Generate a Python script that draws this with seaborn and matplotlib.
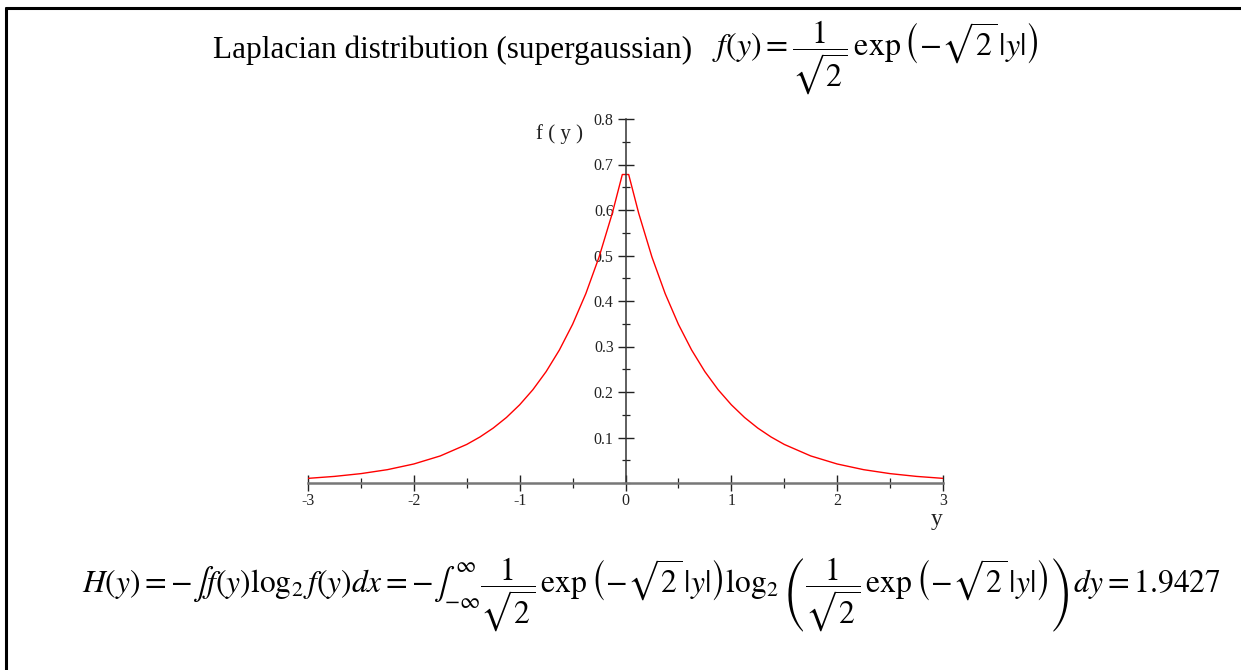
import numpy as np
import pandas as pd
import seaborn as sns
import matplotlib.pyplot as plt
from matplotlib.ticker import MultipleLocator, FixedLocator, FixedFormatter
from matplotlib.lines import Line2D

sns.set_theme(style="white")
plt.rcParams["font.family"] = ["Liberation Serif", "DejaVu Serif"]
plt.rcParams["mathtext.fontset"] = "stix"

# Sampled density values f(y) of the Laplacian curve
y_pos = [0.03, 0.125, 0.25, 0.375, 0.5, 0.625, 0.75, 0.875, 1.0, 1.125,
         1.25, 1.375, 1.5, 1.75, 2.0, 2.25, 2.5, 2.75, 3.0]
f_pos = [0.678, 0.5926, 0.4965, 0.4161, 0.3487, 0.2922, 0.2448, 0.2051,
         0.1719, 0.1440, 0.1207, 0.1012, 0.0848, 0.0595, 0.0418, 0.0293,
         0.0206, 0.0145, 0.0102]
y_vals = [-v for v in y_pos[::-1]] + y_pos
f_vals = f_pos[::-1] + f_pos

x_ticks = [-3, -2, -1, 0, 1, 2, 3]
x_labels = ["-3", "-2", "-1", "0", "1", "2", "3"]
y_ticks = [0.1, 0.2, 0.3, 0.4, 0.5, 0.6, 0.7, 0.8]
y_labels = ["0.1", "0.2", "0.3", "0.4", "0.5", "0.6", "0.7", "0.8"]

df = pd.DataFrame({"y": y_vals, "f": f_vals})

W, H = 1241, 670
fig = plt.figure(figsize=(W / 100, H / 100), dpi=100)
fig.patch.set_facecolor("white")

ax = fig.add_axes([308 / W, 1 - 483 / H, 635 / W, 364 / H])
ax.set_facecolor("none")
sns.lineplot(data=df, x="y", y="f", ax=ax, color="red", lw=1.0, sort=False,
             estimator=None)
ax.set_xlim(-3, 3)
ax.set_ylim(0, 0.8)
ax.set_xlabel("")
ax.set_ylabel("")

for s in ["top", "right"]:
    ax.spines[s].set_visible(False)
ax.spines["left"].set_position(("data", 0))
ax.spines["bottom"].set_position(("data", 0))
ax.spines["left"].set_color("#333333")
ax.spines["left"].set_linewidth(1.1)
ax.spines["bottom"].set_color("#777777")
ax.spines["bottom"].set_linewidth(1.8)

ax.xaxis.set_major_locator(FixedLocator(x_ticks))
ax.xaxis.set_major_formatter(FixedFormatter(x_labels))
ax.xaxis.set_minor_locator(MultipleLocator(0.5))
ax.yaxis.set_major_locator(FixedLocator(y_ticks))
ax.yaxis.set_major_formatter(FixedFormatter(y_labels))
ax.yaxis.set_minor_locator(MultipleLocator(0.05))

ax.tick_params(axis="x", which="both", bottom=True, top=False)
ax.tick_params(axis="y", which="both", left=True, right=False)
ax.tick_params(axis="x", which="major", direction="inout", length=11,
               width=1.0, color="#222222", labelsize=11.5, pad=2)
ax.tick_params(axis="x", which="minor", direction="inout", length=7,
               width=0.9, color="#222222")
ax.tick_params(axis="y", which="major", direction="inout", length=11,
               width=1.0, color="#222222", labelsize=11.5, pad=3)
ax.tick_params(axis="y", which="minor", direction="inout", length=6,
               width=0.9, color="#222222")
for lab in ax.get_xticklabels() + ax.get_yticklabels():
    lab.set_color("#222222")

# axis captions
fig.text(560 / W, 1 - 134 / H, "f ( y )", fontsize=15, ha="center",
         va="center", color="#222222")
fig.text(937 / W, 1 - 520 / H, "y", fontsize=17, ha="center", va="center",
         color="#222222")

# title with the density formula
fig.text(213 / W, 1 - 50 / H, "Laplacian distribution (supergaussian)",
         fontsize=22.5, ha="left", va="center", color="black")
fig.text(712 / W, 1 - 58 / H,
         r"$f\left(y\right)=\dfrac{1}{\sqrt{2}}\,\exp\left(-\sqrt{2}\,|y|\right)$",
         fontsize=23, ha="left", va="center", color="black")

# entropy expression
fig.text(82 / W, 1 - 595 / H,
         r"$H\left(y\right)=-\int f\left(y\right)\log_2 f\left(y\right)dx"
         r"=-\int_{-\infty}^{\infty}\dfrac{1}{\sqrt{2}}\,\exp\left(-\sqrt{2}\,|y|\right)"
         r"\log_2\left(\dfrac{1}{\sqrt{2}}\,\exp\left(-\sqrt{2}\,|y|\right)\right)dy=1.9427$",
         fontsize=22.7, ha="left", va="center", color="black")

# frame lines on the left and top edges
fig.add_artist(Line2D([6 / W, 6 / W], [0, 1 - 8 / H], transform=fig.transFigure,
                      color="black", lw=2.2))
fig.add_artist(Line2D([6 / W, 1], [1 - 8 / H, 1 - 8 / H], transform=fig.transFigure,
                      color="black", lw=2.2))

fig.savefig("out.png", dpi=100)
